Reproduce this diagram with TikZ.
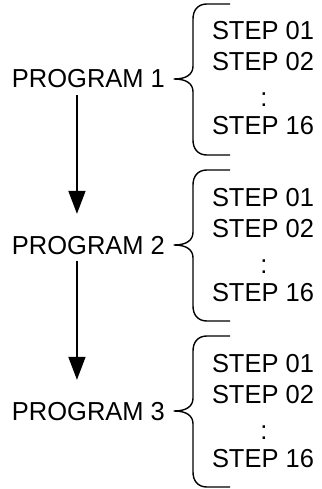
\documentclass[tikz,border=0pt]{standalone}
\usepackage{fontspec}
\usepackage{graphicx}
\setmainfont{Liberation Sans}
\usetikzlibrary{arrows.meta}
\tikzset{
  lbl/.style={inner sep=0pt, outer sep=0pt, font=\fontsize{26}{30}\selectfont},
  brc/.style={line width=1.4pt, line join=round},
  arr/.style={line width=1.7pt, -{Triangle[length=23pt,width=17pt]}}
}
\newcommand{\wide}[1]{\scalebox{0.98}[1]{#1}}
\begin{document}
\begin{tikzpicture}[x=1pt,y=-1pt]
\useasboundingbox (0,0) rectangle (321,489);
\foreach \i/\o in {1/0,2/166,3/332}{
  \node[lbl, anchor=base west] (p\i) at (12,{88+\o}) {\wide{PROGRAM \i}};
  \node[lbl, anchor=base west] (a\i) at (212,{40+\o}) {\wide{STEP 01}};
  \node[lbl, anchor=base west] (b\i) at (212,{71+\o}) {\wide{STEP 02}};
  \node[lbl, anchor=base] (c\i) at (264,{107+\o}) {\wide{:}};
  \node[lbl, anchor=base west] (d\i) at (212,{135+\o}) {\wide{STEP 16}};
  \draw[brc] (230,{4+\o}) -- (207,{4+\o})
    .. controls (198,{4+\o}) and (193,{10+\o}) .. (193,{19+\o})
    -- (193,{66+\o})
    .. controls (193,{74+\o}) and (187,{79+\o}) .. (174,{79+\o})
    .. controls (187,{79+\o}) and (193,{84+\o}) .. (193,{92+\o})
    -- (193,{140+\o})
    .. controls (193,{149+\o}) and (198,{155+\o}) .. (207,{155+\o})
    -- (230,{155+\o});
}
\draw[arr] ([xshift=-11.5pt,yshift=-7pt]p1.south) -- ([xshift=-11.5pt,yshift=22pt]p2.north);
\draw[arr] ([xshift=-11.5pt,yshift=-7pt]p2.south) -- ([xshift=-11.5pt,yshift=22pt]p3.north);
\end{tikzpicture}
\end{document}
